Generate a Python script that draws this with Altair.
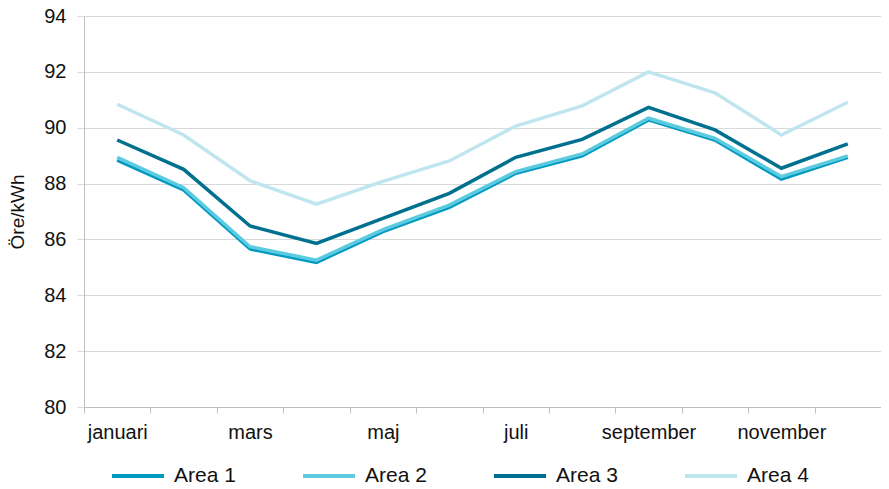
import altair as alt
import pandas as pd

months = ["januari", "februari", "mars", "april", "maj", "juni", "juli",
          "augusti", "september", "oktober", "november", "december"]
shown_labels = ["januari", "mars", "maj", "juli", "september", "november"]

area1 = [88.84, 87.77, 85.66, 85.18, 86.28, 87.15, 88.37, 88.99, 90.28, 89.56, 88.16, 88.94]
area2 = [88.94, 87.85, 85.74, 85.26, 86.35, 87.23, 88.43, 89.06, 90.34, 89.62, 88.25, 88.99]
area3 = [89.56, 88.51, 86.48, 85.86, 86.75, 87.65, 88.94, 89.58, 90.73, 89.92, 88.55, 89.42]
area4 = [90.84, 89.74, 88.10, 87.26, 88.08, 88.81, 90.06, 90.78, 92.00, 91.25, 89.74, 90.91]

series = ["Area 1", "Area 2", "Area 3", "Area 4"]
colors = ["#0099c0", "#5ccbe0", "#00708f", "#bfe6ef"]

rows = []
for name, vals in zip(series, [area1, area2, area3, area4]):
    for m, v in zip(months, vals):
        rows.append({"month": m, "series": name, "value": v})
df = pd.DataFrame(rows)

label_expr = "indexof(" + str(shown_labels) + ", datum.label) >= 0 ? datum.label : ''"
font = "Liberation Sans"

chart = alt.Chart(df).mark_line(strokeWidth=3.5).encode(
    x=alt.X("month:N", sort=months, title=None,
            scale=alt.Scale(paddingInner=0, paddingOuter=0),
            axis=alt.Axis(labelExpr=label_expr, labelAngle=0, grid=False,
                          tickBand="extent", tickSize=6, tickColor="#bfbfbf",
                          domainColor="#bfbfbf", labelFontSize=20, labelColor="#111111",
                          labelFont=font, labelPadding=9)),
    y=alt.Y("value:Q", title="Öre/kWh",
            scale=alt.Scale(domain=[80, 94], nice=False, zero=False),
            axis=alt.Axis(values=[80, 82, 84, 86, 88, 90, 92, 94], tickSize=7,
                          tickColor="#d9d9d9", domainColor="#bfbfbf", gridColor="#d9d9d9",
                          labelFontSize=20, labelColor="#111111", labelFont=font,
                          labelPadding=11, titleFont=font, titleFontSize=19,
                          titleFontWeight="normal", titleColor="#111111", titlePadding=16)),
    color=alt.Color("series:N", scale=alt.Scale(domain=series, range=colors),
                    legend=alt.Legend(title=None, orient="none", direction="horizontal",
                                      legendX=26, legendY=432, padding=0,
                                      symbolType="stroke", symbolSize=2704,
                                      symbolStrokeWidth=4, labelFontSize=21,
                                      labelFont=font, labelColor="#111111",
                                      labelOffset=8, columnPadding=59)),
).properties(
    width=797, height=391,
    autosize=alt.AutoSizeParams(type="none"),
    padding={"left": 76, "top": 8, "right": 0, "bottom": 80},
).configure_view(stroke=None)

chart.save("out.html", embed_options={"renderer": "svg", "actions": False})
